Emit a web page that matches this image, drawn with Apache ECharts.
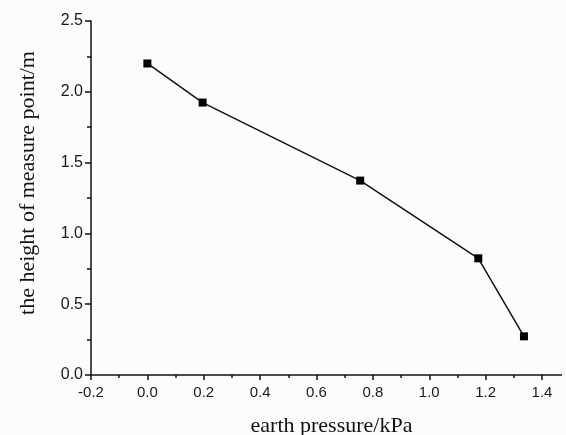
<!DOCTYPE html>
<html>
<head>
<meta charset="utf-8">
<script src="https://cdn.jsdelivr.net/npm/echarts@6/dist/echarts.min.js"></script>
<style>
  html, body { margin: 0; padding: 0; background: #fcfcfc; }
  #chart { width: 566px; height: 435px; }
</style>
</head>
<body>
<div id="chart"></div>
<script>
// earth pressure (kPa) vs height of measure point (m)
const pressure = [0.0, 0.196, 0.755, 1.174, 1.336];
const height = [2.2, 1.924, 1.373, 0.824, 0.273];

const xTicks = { min: -0.2, max: 1.4, step: 0.2 };
const yTicks = { min: 0, max: 2.5, step: 0.5 };

const axisColor = "#111";
const labelFont = "Arial, 'Liberation Sans', sans-serif";
const nameFont = "'Times New Roman', 'Liberation Serif', serif";

const chart = echarts.init(document.getElementById("chart"));
chart.setOption({
  backgroundColor: "#fcfcfc",
  animation: false,
  grid: { left: 91, right: 24, top: 21, bottom: 60, containLabel: false, outerBoundsMode: "none" },
  xAxis: {
    type: "value",
    min: xTicks.min,
    max: xTicks.max,
    interval: xTicks.step,
    name: "earth pressure/kPa",
    nameLocation: "middle",
    nameGap: 40,
    nameTextStyle: { fontFamily: nameFont, fontSize: 22, color: "#111", padding: [0, 0, 0, 30] },
    axisLine: { onZero: false, lineStyle: { color: axisColor, width: 1.5 } },
    axisTick: { inside: false, length: 5, lineStyle: { color: axisColor, width: 1.5 } },
    minorTick: { show: true, splitNumber: 2, length: 3, lineStyle: { color: axisColor, width: 1.5 } },
    axisLabel: {
      margin: 10, fontFamily: labelFont, fontSize: 15, color: "#1a1a1a",
      formatter: (v) => v.toFixed(1)
    },
    splitLine: { show: false }
  },
  yAxis: {
    type: "value",
    min: yTicks.min,
    max: yTicks.max,
    interval: yTicks.step,
    name: "the height of measure point/m",
    nameLocation: "middle",
    nameGap: 52,
    nameTextStyle: { fontFamily: nameFont, fontSize: 22, color: "#111", padding: [0, 0, 0, 30] },
    axisLine: { show: true, onZero: false, lineStyle: { color: axisColor, width: 1.5 } },
    axisTick: { show: true, inside: false, length: 6, lineStyle: { color: axisColor, width: 1.5 } },
    minorTick: { show: true, splitNumber: 2, length: 4, lineStyle: { color: axisColor, width: 1.5 } },
    axisLabel: {
      margin: 8, fontFamily: labelFont, fontSize: 16, color: "#1a1a1a",
      formatter: (v) => v.toFixed(1)
    },
    splitLine: { show: false }
  },
  series: [{
    type: "line",
    data: pressure.map((p, i) => [p, height[i]]),
    symbol: "rect",
    symbolSize: 8,
    itemStyle: { color: "#000" },
    lineStyle: { color: "#111", width: 1.5 }
  }]
});

// the x axis line runs a little past the last tick, as in the original plot
const end = chart.convertToPixel({ xAxisIndex: 0, yAxisIndex: 0 }, [xTicks.max, yTicks.min]);
chart.setOption({
  graphic: [{
    type: "line",
    shape: { x1: end[0], y1: end[1], x2: end[0] + 20, y2: end[1] },
    style: { stroke: axisColor, lineWidth: 1.5 }
  }]
});
</script>
</body>
</html>
